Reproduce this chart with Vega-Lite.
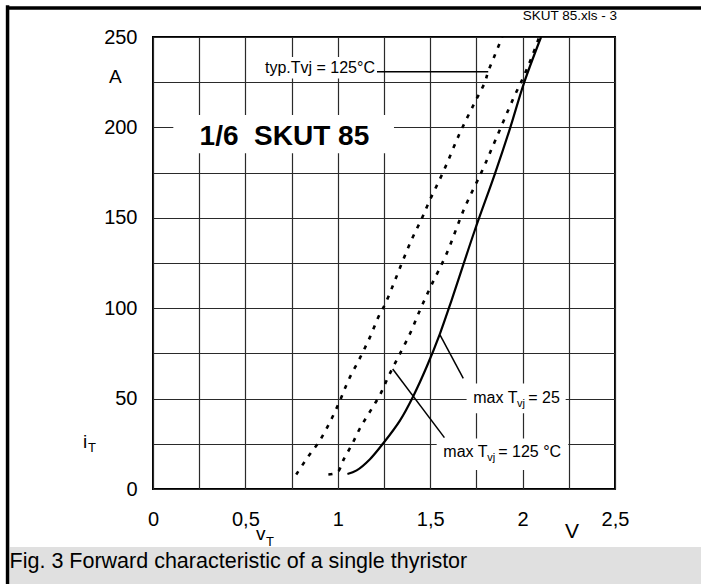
{
  "$schema": "https://vega.github.io/schema/vega-lite/v6.json",
  "autosize": {"type": "none"},
  "padding": {"left": 153, "top": 37, "right": 86, "bottom": 95},
  "width": 462,
  "height": 452,
  "background": "#ffffff",
  "config": {
    "view": {"stroke": "#000000", "strokeWidth": 2},
    "font": "Liberation Sans",
    "text": {"font": "Liberation Sans", "color": "#000000"}
  },
  "datasets": {
    "curves": [
      {"series": "typ. Tvj = 125 °C", "v": 0.775, "i": 8},
      {"series": "typ. Tvj = 125 °C", "v": 0.84, "i": 18},
      {"series": "typ. Tvj = 125 °C", "v": 0.904, "i": 27},
      {"series": "typ. Tvj = 125 °C", "v": 0.967, "i": 39},
      {"series": "typ. Tvj = 125 °C", "v": 1.012, "i": 49},
      {"series": "typ. Tvj = 125 °C", "v": 1.057, "i": 60},
      {"series": "typ. Tvj = 125 °C", "v": 1.12, "i": 72.5},
      {"series": "typ. Tvj = 125 °C", "v": 1.174, "i": 84},
      {"series": "typ. Tvj = 125 °C", "v": 1.228, "i": 97},
      {"series": "typ. Tvj = 125 °C", "v": 1.255, "i": 102},
      {"series": "typ. Tvj = 125 °C", "v": 1.3, "i": 113},
      {"series": "typ. Tvj = 125 °C", "v": 1.347, "i": 125},
      {"series": "typ. Tvj = 125 °C", "v": 1.4, "i": 138},
      {"series": "typ. Tvj = 125 °C", "v": 1.454, "i": 149.5},
      {"series": "typ. Tvj = 125 °C", "v": 1.499, "i": 160},
      {"series": "typ. Tvj = 125 °C", "v": 1.571, "i": 175.5},
      {"series": "typ. Tvj = 125 °C", "v": 1.661, "i": 197},
      {"series": "typ. Tvj = 125 °C", "v": 1.742, "i": 214},
      {"series": "typ. Tvj = 125 °C", "v": 1.796, "i": 225},
      {"series": "typ. Tvj = 125 °C", "v": 1.814, "i": 231},
      {"series": "typ. Tvj = 125 °C", "v": 1.85, "i": 240},
      {"series": "typ. Tvj = 125 °C", "v": 1.89, "i": 250},
      {"series": "max Tvj = 125 °C", "v": 0.949, "i": 8},
      {"series": "max Tvj = 125 °C", "v": 0.98, "i": 8.5},
      {"series": "max Tvj = 125 °C", "v": 1.003, "i": 9.8},
      {"series": "max Tvj = 125 °C", "v": 1.03, "i": 16},
      {"series": "max Tvj = 125 °C", "v": 1.075, "i": 24.3},
      {"series": "max Tvj = 125 °C", "v": 1.12, "i": 33.6},
      {"series": "max Tvj = 125 °C", "v": 1.174, "i": 42.8},
      {"series": "max Tvj = 125 °C", "v": 1.228, "i": 52},
      {"series": "max Tvj = 125 °C", "v": 1.273, "i": 62},
      {"series": "max Tvj = 125 °C", "v": 1.327, "i": 73},
      {"series": "max Tvj = 125 °C", "v": 1.391, "i": 86},
      {"series": "max Tvj = 125 °C", "v": 1.445, "i": 99},
      {"series": "max Tvj = 125 °C", "v": 1.503, "i": 112},
      {"series": "max Tvj = 125 °C", "v": 1.588, "i": 130},
      {"series": "max Tvj = 125 °C", "v": 1.684, "i": 155},
      {"series": "max Tvj = 125 °C", "v": 1.781, "i": 176},
      {"series": "max Tvj = 125 °C", "v": 1.853, "i": 193},
      {"series": "max Tvj = 125 °C", "v": 1.95, "i": 216},
      {"series": "max Tvj = 125 °C", "v": 2.005, "i": 228},
      {"series": "max Tvj = 125 °C", "v": 2.05, "i": 239},
      {"series": "max Tvj = 125 °C", "v": 2.09, "i": 250},
      {"series": "max Tvj = 25 °C", "v": 1.052, "i": 8.3},
      {"series": "max Tvj = 25 °C", "v": 1.102, "i": 10.3},
      {"series": "max Tvj = 25 °C", "v": 1.174, "i": 16.5},
      {"series": "max Tvj = 25 °C", "v": 1.246, "i": 25.3},
      {"series": "max Tvj = 25 °C", "v": 1.337, "i": 38},
      {"series": "max Tvj = 25 °C", "v": 1.409, "i": 51.5},
      {"series": "max Tvj = 25 °C", "v": 1.481, "i": 67.6},
      {"series": "max Tvj = 25 °C", "v": 1.553, "i": 86},
      {"series": "max Tvj = 25 °C", "v": 1.616, "i": 104.5},
      {"series": "max Tvj = 25 °C", "v": 1.74, "i": 142.7},
      {"series": "max Tvj = 25 °C", "v": 1.851, "i": 174.6},
      {"series": "max Tvj = 25 °C", "v": 1.932, "i": 199.5},
      {"series": "max Tvj = 25 °C", "v": 2.007, "i": 224.4},
      {"series": "max Tvj = 25 °C", "v": 2.1, "i": 250}
    ],
    "boxes": [
      {"v": 0.595, "v2": 1.21, "i": 227, "i2": 239},
      {"v": 0.11, "v2": 1.304, "i": 185.7, "i2": 206.9},
      {"v": 1.697, "v2": 2.233, "i": 41.9, "i2": 58.4},
      {"v": 1.535, "v2": 2.247, "i": 10.5, "i2": 28}
    ],
    "pointers": [
      {"v": 1.212, "i": 230.8, "v2": 1.814, "i2": 230.8},
      {"v": 1.553, "i": 85.2, "v2": 1.679, "i2": 61.2},
      {"v": 1.297, "i": 66.4, "v2": 1.577, "i2": 28.4}
    ],
    "page": [
      {"v": -0.795, "i": 266, "v2": 2.97, "i2": 266},
      {"v": -0.787, "i": 267.5, "v2": -0.787, "i2": -53}
    ],
    "band": [
      {"v": -0.775, "v2": 2.97, "i": -32.1, "i2": -53}
    ],
    "labels": [
      {"kind": "note_r", "text": "typ.Tvj = 125°C", "v": 1.201, "i": 230.1},
      {"kind": "note", "text": "max T", "v": 1.733, "i": 47.4},
      {"kind": "sub", "text": "vj", "v": 1.97, "i": 45.1},
      {"kind": "note", "text": "= 25", "v": 2.031, "i": 47.4},
      {"kind": "note", "text": "max T", "v": 1.571, "i": 17.9},
      {"kind": "sub", "text": "vj", "v": 1.809, "i": 15.7},
      {"kind": "note", "text": "= 125 °C", "v": 1.868, "i": 17.9},
      {"kind": "title", "text": "1/6\u00a0 SKUT 85", "v": 0.711, "i": 190.3},
      {"kind": "sym", "text": "A", "v": -0.238, "i": 224.4},
      {"kind": "sym", "text": "i", "v": -0.379, "i": 22.7},
      {"kind": "sym", "text": "v", "v": 0.558, "i": -28.4},
      {"kind": "unit", "text": "V", "v": 2.229, "i": -27.1},
      {"kind": "subT", "text": "T", "v": -0.352, "i": 20.6},
      {"kind": "subT", "text": "T", "v": 0.612, "i": -31.6},
      {"kind": "caption", "text": "Fig. 3 Forward characteristic of a single thyristor", "v": -0.776, "i": -43.9},
      {"kind": "file", "text": "SKUT 85.xls - 3", "v": 2.511, "i": 259.4}
    ]
  },
  "encoding": {
    "x": {
      "field": "v", "type": "quantitative",
      "scale": {"domain": [0, 2.5], "nice": false, "zero": false},
      "axis": {
        "title": null,
        "values": [0, 0.25, 0.5, 0.75, 1, 1.25, 1.5, 1.75, 2, 2.25, 2.5],
        "labelExpr": "(datum.value * 2) % 1 == 0 ? replace(toString(datum.value), '.', ',') : ''",
        "ticks": false, "domain": false,
        "grid": true, "gridColor": "#2a2a2a", "gridWidth": 1.2, "gridOpacity": 1,
        "labelFont": "Liberation Sans", "labelFontSize": 20, "labelColor": "#000000",
        "labelPadding": 20, "labelOverlap": false, "labelFlush": false, "labelBound": false
      }
    },
    "y": {
      "field": "i", "type": "quantitative",
      "scale": {"domain": [0, 250], "nice": false, "zero": false},
      "axis": {
        "title": null,
        "values": [0, 25, 50, 75, 100, 125, 150, 175, 200, 225, 250],
        "labelExpr": "datum.value % 50 == 0 ? toString(datum.value) : ''",
        "ticks": false, "domain": false,
        "grid": true, "gridColor": "#2a2a2a", "gridWidth": 1.2, "gridOpacity": 1,
        "labelFont": "Liberation Sans", "labelFontSize": 20, "labelColor": "#000000",
        "labelPadding": 16, "labelOverlap": false, "labelFlush": false, "labelBound": false
      }
    }
  },
  "layer": [
    {
      "data": {"name": "band"},
      "mark": {"type": "rect", "color": "#e0e0e0"},
      "encoding": {"x2": {"field": "v2"}, "y2": {"field": "i2"}}
    },
    {
      "data": {"name": "boxes"},
      "mark": {"type": "rect", "color": "#ffffff"},
      "encoding": {"x2": {"field": "v2"}, "y2": {"field": "i2"}}
    },
    {
      "data": {"name": "curves"},
      "transform": [{"filter": "datum.series != 'max Tvj = 25 °C'"}],
      "mark": {"type": "line", "color": "#000000", "strokeWidth": 2.6, "strokeDash": [4, 7], "interpolate": "catmull-rom"},
      "encoding": {"detail": {"field": "series"}}
    },
    {
      "data": {"name": "curves"},
      "transform": [{"filter": "datum.series == 'max Tvj = 25 °C'"}],
      "mark": {"type": "line", "color": "#000000", "strokeWidth": 2.2, "interpolate": "catmull-rom"},
      "encoding": {"detail": {"field": "series"}}
    },
    {
      "data": {"name": "pointers"},
      "mark": {"type": "rule", "color": "#000000", "strokeWidth": 1.5},
      "encoding": {"x2": {"field": "v2"}, "y2": {"field": "i2"}}
    },
    {
      "data": {"name": "page"},
      "mark": {"type": "rule", "color": "#000000", "strokeWidth": 3.5},
      "encoding": {"x2": {"field": "v2"}, "y2": {"field": "i2"}}
    },
    {
      "data": {"name": "labels"},
      "transform": [{"filter": "datum.kind == 'note_r'"}],
      "mark": {"type": "text", "align": "right", "baseline": "alphabetic", "fontSize": 16},
      "encoding": {"text": {"field": "text"}}
    },
    {
      "data": {"name": "labels"},
      "transform": [{"filter": "datum.kind == 'note'"}],
      "mark": {"type": "text", "align": "left", "baseline": "alphabetic", "fontSize": 16},
      "encoding": {"text": {"field": "text"}}
    },
    {
      "data": {"name": "labels"},
      "transform": [{"filter": "datum.kind == 'sub'"}],
      "mark": {"type": "text", "align": "left", "baseline": "alphabetic", "fontSize": 11},
      "encoding": {"text": {"field": "text"}}
    },
    {
      "data": {"name": "labels"},
      "transform": [{"filter": "datum.kind == 'title'"}],
      "mark": {"type": "text", "align": "center", "baseline": "alphabetic", "fontSize": 28, "fontWeight": "bold"},
      "encoding": {"text": {"field": "text"}}
    },
    {
      "data": {"name": "labels"},
      "transform": [{"filter": "datum.kind == 'sym'"}],
      "mark": {"type": "text", "align": "left", "baseline": "alphabetic", "fontSize": 19},
      "encoding": {"text": {"field": "text"}}
    },
    {
      "data": {"name": "labels"},
      "transform": [{"filter": "datum.kind == 'unit'"}],
      "mark": {"type": "text", "align": "left", "baseline": "alphabetic", "fontSize": 21},
      "encoding": {"text": {"field": "text"}}
    },
    {
      "data": {"name": "labels"},
      "transform": [{"filter": "datum.kind == 'subT'"}],
      "mark": {"type": "text", "align": "left", "baseline": "alphabetic", "fontSize": 13},
      "encoding": {"text": {"field": "text"}}
    },
    {
      "data": {"name": "labels"},
      "transform": [{"filter": "datum.kind == 'caption'"}],
      "mark": {"type": "text", "align": "left", "baseline": "alphabetic", "fontSize": 21.5},
      "encoding": {"text": {"field": "text"}}
    },
    {
      "data": {"name": "labels"},
      "transform": [{"filter": "datum.kind == 'file'"}],
      "mark": {"type": "text", "align": "right", "baseline": "alphabetic", "fontSize": 13.5},
      "encoding": {"text": {"field": "text"}}
    }
  ]
}
